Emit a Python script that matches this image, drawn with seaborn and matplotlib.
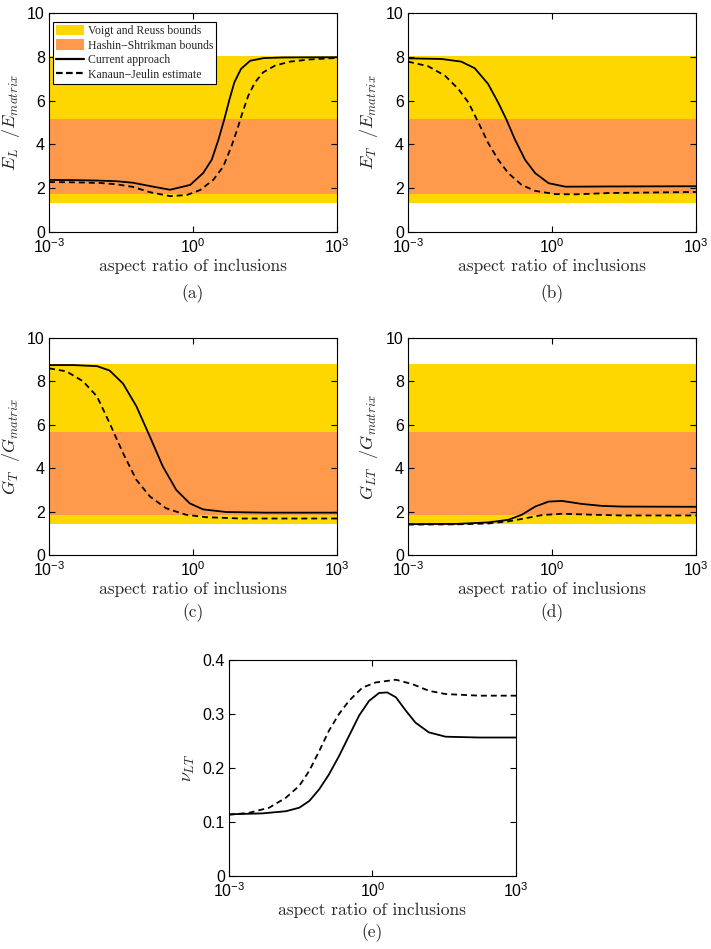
import matplotlib
matplotlib.use('Agg')
import matplotlib.pyplot as plt
import numpy as np
import pandas as pd
import seaborn as sns
from matplotlib.lines import Line2D
from matplotlib.patches import Patch

sns.set_theme(style='ticks')
plt.rcParams.update({
    'font.family': ['Liberation Sans', 'DejaVu Sans'],
    'mathtext.fontset': 'cm',
    'xtick.direction': 'in', 'ytick.direction': 'in',
    'xtick.top': True, 'ytick.right': True,
    'axes.linewidth': 0.8, 'axes.edgecolor': 'black',
    'xtick.color': 'black', 'ytick.color': 'black',
})

YELLOW = '#FFD700'
ORANGE = '#FF9A4C'

# bounds: Voigt/Reuss (low, high), Hashin-Shtrikman (low, high)
vr_E = [1.33, 8.05]
hs_E = [1.73, 5.14]
vr_G = [1.42, 8.82]
hs_G = [1.83, 5.67]

# panel (a) E_L
a_cur_exp = [-3, -2.5, -2, -1.6, -1.25, -0.9, -0.48, -0.06, 0.21, 0.39, 0.53, 0.65, 0.76, 0.86, 1.0, 1.19, 1.47, 1.88, 3.0]
a_cur_val = [2.38, 2.37, 2.35, 2.32, 2.25, 2.1, 1.93, 2.15, 2.69, 3.3, 4.22, 5.14, 6.06, 6.83, 7.45, 7.82, 7.94, 7.97, 7.98]
a_kj_exp = [-3, -2.5, -1.94, -1.6, -1.25, -0.9, -0.48, -0.13, 0.15, 0.42, 0.63, 0.8, 0.92, 1.03, 1.15, 1.29, 1.46, 1.71, 2.02, 2.44, 3.0]
a_kj_val = [2.28, 2.27, 2.24, 2.18, 2.06, 1.82, 1.64, 1.69, 1.92, 2.38, 2.99, 3.91, 4.68, 5.45, 6.22, 6.83, 7.29, 7.6, 7.78, 7.88, 7.95]

# panel (b) E_T
b_cur_exp = [-3, -2.3, -1.89, -1.61, -1.33, -1.12, -0.95, -0.77, -0.56, -0.35, -0.07, 0.28, 1.18, 3.0]
b_cur_val = [7.93, 7.9, 7.78, 7.48, 6.76, 5.91, 5.14, 4.22, 3.3, 2.69, 2.23, 2.07, 2.08, 2.09]
b_kj_exp = [-3, -2.58, -2.23, -1.95, -1.74, -1.53, -1.33, -1.12, -0.91, -0.63, -0.35, 0.07, 0.49, 1.18, 3.0]
b_kj_val = [7.78, 7.57, 7.14, 6.53, 5.91, 4.99, 4.07, 3.3, 2.69, 2.15, 1.88, 1.73, 1.72, 1.78, 1.83]

# panel (c) G_T
c_cur_exp = [-3, -2.5, -2.0, -1.74, -1.46, -1.18, -0.9, -0.63, -0.35, -0.07, 0.21, 0.69, 1.5, 3.0]
c_cur_val = [8.75, 8.75, 8.7, 8.5, 7.9, 6.85, 5.46, 4.08, 3.0, 2.38, 2.1, 1.98, 1.95, 1.95]
c_kj_exp = [-3, -2.64, -2.29, -2.0, -1.74, -1.46, -1.18, -0.9, -0.56, -0.14, 0.28, 1.0, 3.0]
c_kj_val = [8.6, 8.46, 8.0, 7.3, 6.08, 4.7, 3.46, 2.7, 2.15, 1.85, 1.74, 1.68, 1.68]

# panel (d) G_LT
d_cur_exp = [-3, -2, -1.33, -0.91, -0.63, -0.35, -0.07, 0.21, 0.63, 1.05, 1.47, 3.0]
d_cur_val = [1.42, 1.43, 1.5, 1.62, 1.85, 2.23, 2.46, 2.49, 2.35, 2.26, 2.23, 2.22]
d_kj_exp = [-3, -2, -1.33, -0.91, -0.63, -0.2, 0.21, 0.77, 1.47, 3.0]
d_kj_val = [1.40, 1.41, 1.45, 1.55, 1.66, 1.84, 1.9, 1.86, 1.82, 1.82]

# panel (e) nu_LT
e_cur_exp = [-3, -2.3, -1.81, -1.53, -1.32, -1.11, -0.91, -0.7, -0.49, -0.28, -0.07, 0.14, 0.31, 0.49, 0.7, 0.9, 1.18, 1.53, 2.23, 3.0]
e_cur_val = [0.1143, 0.116, 0.12, 0.1265, 0.139, 0.161, 0.188, 0.222, 0.2595, 0.297, 0.3245, 0.339, 0.34, 0.331, 0.306, 0.284, 0.266, 0.258, 0.2565, 0.2565]
e_kj_exp = [-3, -2.58, -2.16, -1.81, -1.53, -1.32, -1.11, -0.91, -0.7, -0.49, -0.21, 0.07, 0.49, 0.83, 1.18, 1.53, 2.23, 3.0]
e_kj_val = [0.1135, 0.117, 0.1265, 0.145, 0.167, 0.195, 0.232, 0.269, 0.3, 0.3245, 0.349, 0.3585, 0.3635, 0.3555, 0.343, 0.337, 0.334, 0.334]

x_ticks = [1e-3, 1e0, 1e3]
x_tick_labels = [r'$\mathregular{10^{-3}}$', r'$\mathregular{10^{0}}$', r'$\mathregular{10^{3}}$']

fig = plt.figure(figsize=(7.11, 9.49), dpi=100)

W = 0.405
panels = [
    ([0.069, 0.7555, W, 0.2308], a_cur_exp, a_cur_val, a_kj_exp, a_kj_val, vr_E, hs_E,
     r'$E_L\ \ /E_{matrix}$', '(a)', 10, -0.28),
    ([0.5738, 0.7555, W, 0.2308], b_cur_exp, b_cur_val, b_kj_exp, b_kj_val, vr_E, hs_E,
     r'$E_T\ \ /E_{matrix}$', '(b)', 10, -0.28),
    ([0.069, 0.4152, W, 0.2287], c_cur_exp, c_cur_val, c_kj_exp, c_kj_val, vr_G, hs_G,
     r'$G_T\ \ /G_{matrix}$', '(c)', 10, -0.265),
    ([0.5738, 0.4152, W, 0.2287], d_cur_exp, d_cur_val, d_kj_exp, d_kj_val, vr_G, hs_G,
     r'$G_{LT}\ \ /G_{matrix}$', '(d)', 10, -0.265),
    ([0.322, 0.0769, 0.4037, 0.2276], e_cur_exp, e_cur_val, e_kj_exp, e_kj_val, None, None,
     r'$\nu_{LT}$', '(e)', 0.4, -0.26),
]

for rect, ce, cv, ke, kv, vr, hs, ylab, cap, ymax, cap_y in panels:
    ax = fig.add_axes(rect)
    if vr is not None:
        ax.axhspan(vr[0], vr[1], color=YELLOW, lw=0, zorder=0)
        ax.axhspan(hs[0], hs[1], color=ORANGE, lw=0, zorder=0.5)
    cur = pd.DataFrame({'x': np.power(10.0, ce), 'y': cv})
    kj = pd.DataFrame({'x': np.power(10.0, ke), 'y': kv})
    sns.lineplot(data=cur, x='x', y='y', ax=ax, color='black', lw=1.3, zorder=3)
    sns.lineplot(data=kj, x='x', y='y', ax=ax, color='black', lw=1.3, ls=(0, (3.3, 2.2)), zorder=3)
    ax.set_xscale('log')
    ax.set_xlim(1e-3, 1e3)
    ax.set_ylim(0, ymax)
    ax.set_xticks(x_ticks)
    ax.set_xticklabels(x_tick_labels)
    ax.minorticks_off()
    if ymax == 10:
        ax.set_yticks([0, 2, 4, 6, 8, 10])
    else:
        ax.set_yticks([0, 0.1, 0.2, 0.3, 0.4])
        ax.set_yticklabels(['0', '0.1', '0.2', '0.3', '0.4'])
    ax.tick_params(labelsize=11.5, length=4, width=0.8)
    ax.tick_params(axis='x', pad=4)
    ax.tick_params(axis='y', pad=3)
    ax.set_xlabel('aspect ratio of inclusions', family='cmr10', fontsize=12.5, labelpad=2)
    ax.set_ylabel(ylab, fontsize=13, labelpad=4)
    ax.text(0.5, cap_y, cap, transform=ax.transAxes, ha='center', va='center',
            family='cmr10', fontsize=12.5)
    for s in ax.spines.values():
        s.set_zorder(5)

    if cap == '(a)':
        handles = [Patch(facecolor=YELLOW, edgecolor='none'),
                   Patch(facecolor=ORANGE, edgecolor='none'),
                   Line2D([], [], color='black', lw=1.6),
                   Line2D([], [], color='black', lw=1.6, ls=(0, (3, 1.5)))]
        labels = ['Voigt and Reuss bounds', 'Hashin\u2212Shtrikman bounds',
                  'Current approach', 'Kanaun\u2212Jeulin estimate']
        leg = ax.legend(handles, labels, loc='upper left', bbox_to_anchor=(0.014, 0.96),
                        prop={'family': 'Liberation Serif', 'size': 8.5},
                        frameon=True, fancybox=False, edgecolor='black', framealpha=1,
                        borderpad=0.25, labelspacing=0.2, handlelength=2.4,
                        handleheight=1.0, handletextpad=0.3, borderaxespad=0)
        leg.get_frame().set_linewidth(0.8)
        leg.set_zorder(6)

fig.savefig('out.png', dpi=100)
